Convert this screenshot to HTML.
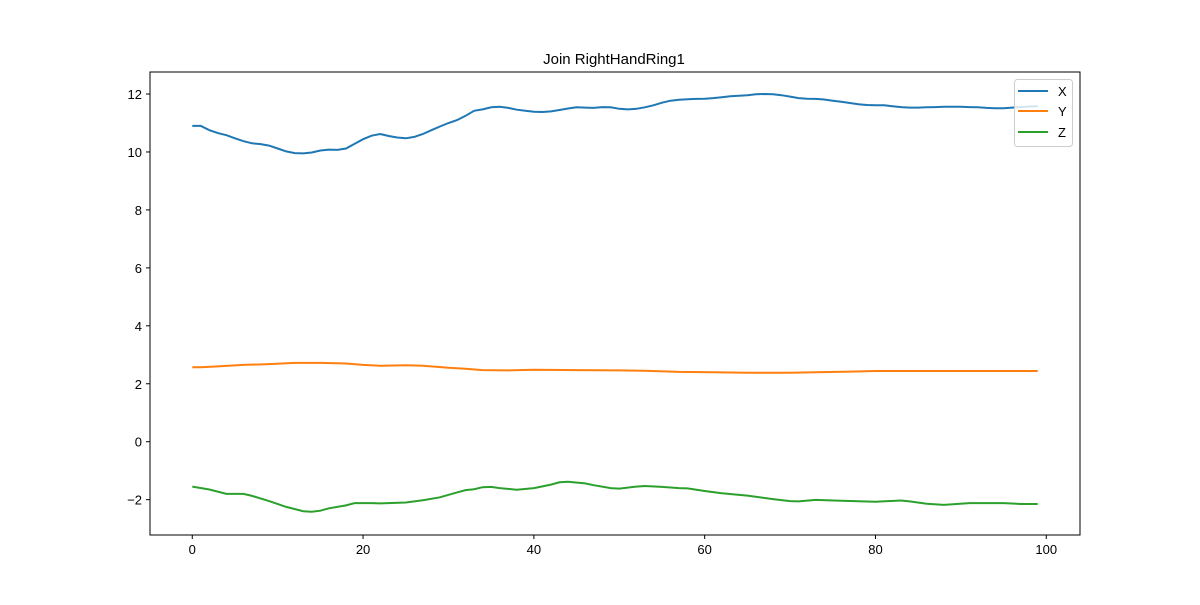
<!DOCTYPE html>
<html><head><meta charset="utf-8"><style>
body{margin:0;background:#fff}
svg text{font-family:"Liberation Sans","DejaVu Sans",sans-serif;}
</style></head><body>
<svg id="chart" width="1200" height="600" viewBox="0 0 1200 600" xmlns="http://www.w3.org/2000/svg">
<rect width="1200" height="600" fill="#fff"/>
<text x="614" y="64" font-size="15" text-anchor="middle">Join RightHandRing1</text>
<g id="plot"></g>
<rect x="150" y="72" width="930" height="463" fill="none" stroke="#000" stroke-width="1"/>
<g id="ticks"></g>
<g>
<rect x="1014.5" y="79.5" width="58" height="67" rx="3" fill="#fff" fill-opacity="0.8" stroke="#ccc"/>
<g><line x1="1018" x2="1048" y1="91" y2="91" stroke="#1f77b4" stroke-width="2"/><text x="1058" y="96" font-size="13">X</text></g>
<g><line x1="1018" x2="1048" y1="111" y2="111" stroke="#ff7f0e" stroke-width="2"/><text x="1058" y="116" font-size="13">Y</text></g>
<g><line x1="1018" x2="1048" y1="132" y2="132" stroke="#2ca02c" stroke-width="2"/><text x="1058" y="137" font-size="13">Z</text></g>
</g>
</svg>
<script>
const xSeries=[10.9,10.9,10.75,10.65,10.58,10.47,10.37,10.3,10.27,10.22,10.12,10.02,9.96,9.95,9.98,10.05,10.08,10.07,10.12,10.28,10.44,10.56,10.62,10.55,10.5,10.47,10.52,10.62,10.75,10.88,11.0,11.1,11.25,11.42,11.47,11.54,11.56,11.52,11.46,11.42,11.39,11.38,11.4,11.45,11.5,11.54,11.53,11.52,11.55,11.54,11.49,11.47,11.49,11.54,11.61,11.7,11.77,11.8,11.82,11.83,11.84,11.86,11.89,11.92,11.94,11.96,11.99,12.0,11.99,11.96,11.91,11.86,11.84,11.83,11.81,11.77,11.73,11.69,11.65,11.62,11.61,11.61,11.58,11.55,11.53,11.53,11.54,11.55,11.56,11.56,11.56,11.55,11.54,11.52,11.51,11.51,11.53,11.55,11.57,11.58];
const yIdx=[0,1,3,6,9,12,15,18,20,22,25,27,30,32,34,37,40,45,50,53,57,61,65,70,73,77,80,85,90,95,99];
const ySeries=[2.57,2.57,2.6,2.65,2.68,2.72,2.72,2.7,2.65,2.62,2.64,2.62,2.55,2.52,2.47,2.46,2.48,2.47,2.46,2.45,2.41,2.4,2.38,2.38,2.4,2.42,2.44,2.44,2.44,2.44,2.44];
const zIdx=[0,2,4,6,7,9,11,13,14,15,16,18,19,21,22,25,27,29,31,32,33,34,35,36,38,40,42,43,44,46,47,49,50,52,53,55,57,58,60,62,65,68,70,71,73,76,80,83,84,86,88,91,95,97,99];
const zSeries=[-1.55,-1.65,-1.8,-1.8,-1.87,-2.05,-2.25,-2.4,-2.42,-2.38,-2.3,-2.2,-2.12,-2.12,-2.13,-2.1,-2.02,-1.92,-1.75,-1.67,-1.64,-1.57,-1.56,-1.6,-1.66,-1.6,-1.48,-1.4,-1.38,-1.44,-1.5,-1.6,-1.62,-1.55,-1.53,-1.56,-1.6,-1.61,-1.7,-1.78,-1.86,-1.98,-2.05,-2.06,-2.01,-2.04,-2.07,-2.03,-2.06,-2.14,-2.18,-2.12,-2.12,-2.15,-2.15];
const xTicks=[0,20,40,60,80,100];
const yTicks=[-2,0,2,4,6,8,10,12];
const L=150,R=1080,T=72,B=535,X0=-4.95,X1=103.95,Y0=-3.22,Y1=12.76;
const sx=v=>L+(v-X0)/(X1-X0)*(R-L);
const sy=v=>B-(v-Y0)/(Y1-Y0)*(B-T);
const NS='http://www.w3.org/2000/svg';
const plot=document.getElementById('plot'),ticks=document.getElementById('ticks');
function line(xs,ys,color,name){
  const p=document.createElementNS(NS,'path');
  p.setAttribute('d',xs.map((x,i)=>(i?'L':'M')+sx(x).toFixed(1)+','+sy(ys[i]).toFixed(1)).join(''));
  p.setAttribute('fill','none');p.setAttribute('stroke',color);p.setAttribute('stroke-width','2');
  
  
  plot.appendChild(p);
}
line(xSeries.map((_,i)=>i),xSeries,'#1f77b4','series-x');
line(yIdx,ySeries,'#ff7f0e','series-y');
line(zIdx,zSeries,'#2ca02c','series-z');
xTicks.forEach(v=>{
  const g=document.createElementNS(NS,'g');
  
  
  const x=sx(v);
  g.innerHTML=`<line x1="${x}" x2="${x}" y1="${B}" y2="${B+4}" stroke="#000"/><text x="${x}" y="${B+19}" font-size="13" text-anchor="middle">${v}</text>`;
  ticks.appendChild(g);
});
yTicks.forEach(v=>{
  const g=document.createElementNS(NS,'g');
  
  
  const y=sy(v);
  g.innerHTML=`<line x1="${L-4}" x2="${L}" y1="${y}" y2="${y}" stroke="#000"/><text x="${L-8}" y="${y+5}" font-size="13" text-anchor="end">${v<0?'−'+(-v):v}</text>`;
  ticks.appendChild(g);
});
</script>
</body></html>
